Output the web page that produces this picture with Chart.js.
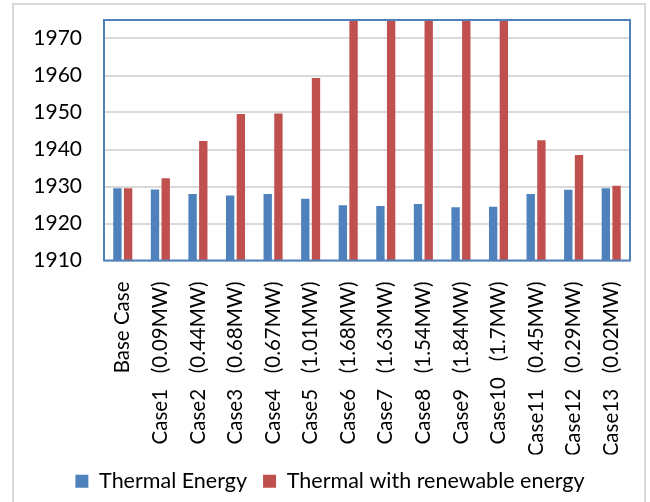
<!DOCTYPE html>
<html>
<head>
<meta charset="utf-8">
<script src="https://cdn.jsdelivr.net/npm/chart.js@4.4.0/dist/chart.umd.min.js"></script>
<style>
  html, body { margin: 0; padding: 0; background: #fff; overflow: hidden; }
  #wrap { position: relative; width: 650px; height: 502px; }
  #frame { position: absolute; left: 12px; top: 3px; width: 630px; height: 540px; border: 2px solid #d9d9d9; }
  #c { position: absolute; left: 0; top: 0; }
</style>
</head>
<body>
<div id="wrap">
  <div id="frame"></div>
  <canvas id="c" width="650" height="502"></canvas>
</div>
<script>
var caseLabels = ['Base Case', 'Case1   (0.09MW)', 'Case2   (0.44MW)', 'Case3   (0.68MW)',
  'Case4   (0.67MW)', 'Case5   (1.01MW)', 'Case6   (1.68MW)', 'Case7   (1.63MW)',
  'Case8   (1.54MW)', 'Case9   (1.84MW)', 'Case10   (1.7MW)', 'Case11   (0.45MW)',
  'Case12   (0.29MW)', 'Case13   (0.02MW)'];

var thermal = [1929.5, 1929.2, 1928.0, 1927.6, 1928.0, 1926.7, 1924.9, 1924.7,
  1925.3, 1924.4, 1924.5, 1928.0, 1929.1, 1929.5];

// cases 6-10 run past the top of the axis
var thermalRenew = [1929.5, 1932.2, 1942.3, 1949.6, 1949.7, 1959.3, 1979.0, 1977.6,
  1976.5, 1983.8, 1979.7, 1942.5, 1938.5, 1930.2];

var yMin = 1910, yMax = 1975, yStep = 10;

var fontFam = 'Lato';
var padLeft = 30;

// blue box round the plot area
var plotFrame = {
  id: 'plotFrame',
  afterDatasetsDraw: function(chart) {
    var a = chart.chartArea, c = chart.ctx;
    c.save();
    c.strokeStyle = '#4f81bd';
    c.lineWidth = 2;
    c.strokeRect(a.left, a.top, a.right - a.left, a.bottom - a.top);
    c.restore();
  }
};

var ctx = document.getElementById('c').getContext('2d');
var chart = new Chart(ctx, {
  type: 'bar',
  data: {
    labels: caseLabels,
    datasets: [{
      label: 'Thermal Energy',
      data: thermal,
      backgroundColor: '#4f81bd',
      categoryPercentage: 0.57,
      barPercentage: 0.78
    }, {
      label: 'Thermal with renewable energy',
      data: thermalRenew,
      backgroundColor: '#c0504d',
      categoryPercentage: 0.57,
      barPercentage: 0.78
    }]
  },
  options: {
    responsive: false,
    animation: false,
    layout: { padding: { top: 20, right: 20, left: padLeft, bottom: 0 } },
    plugins: {
      tooltip: { enabled: false },
      legend: {
        position: 'bottom',
        align: 'center',
        labels: {
          boxWidth: 13,
          boxHeight: 13,
          padding: 16,
          color: '#000',
          font: { family: fontFam, size: 21.5 }
        }
      }
    },
    scales: {
      x: {
        grid: { display: false },
        border: { display: false },
        ticks: {
          color: '#000',
          font: { family: fontFam, size: 20.5 },
          maxRotation: 90,
          minRotation: 90,
          autoSkip: false,
          padding: 13
        },
        afterFit: function(s) {
          s.height = 194;
          s.paddingLeft = 0;
          s.paddingRight = 0;
        }
      },
      y: {
        min: yMin,
        max: yMax,
        grid: { color: '#d9d9d9', lineWidth: 2, drawTicks: false },
        border: { display: false },
        ticks: {
          stepSize: yStep,
          includeBounds: false,
          color: '#000',
          padding: 22,
          font: { family: fontFam, size: 21 },
          callback: function(v) { return String(v); }
        },
        afterFit: function(s) {
          s.width = 104 - padLeft;
          s.paddingTop = 0;
          s.paddingBottom = 0;
        }
      }
    }
  },
  plugins: [plotFrame]
});
</script>
</body>
</html>
